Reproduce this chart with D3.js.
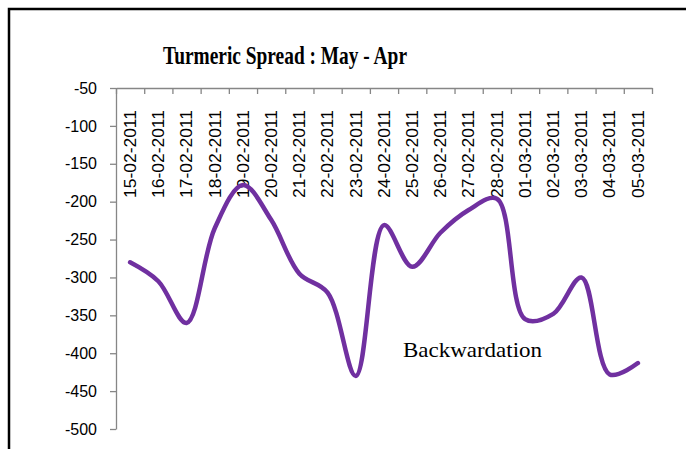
<!DOCTYPE html>
<html lang='en'>
	<head>
		<meta charset='utf-8'>
		<title>Turmeric Spread</title>
		<script type='text/javascript' src='https://cdn.jsdelivr.net/npm/d3@7'></script>
		<style>
			body { margin: 0; background: #fff; }
		</style>
	</head>
	<body>
	</body>
	<script type='text/javascript'>
	var dates = ['15-02-2011','16-02-2011','17-02-2011','18-02-2011','19-02-2011','20-02-2011','21-02-2011',
		'22-02-2011','23-02-2011','24-02-2011','25-02-2011','26-02-2011','27-02-2011','28-02-2011',
		'01-03-2011','02-03-2011','03-03-2011','04-03-2011','05-03-2011'];
	var spread = [-280, -305, -360, -235, -178, -224, -295, -320, -430, -231, -286, -241, -211, -196,
		-355, -348, -300, -428, -413];
	var y_ticks = [-50, -100, -150, -200, -250, -300, -350, -400, -450, -500];

	{
		let width = 686, height = 449;
		let plot_l = 116, plot_r = 652, plot_t = 88, plot_b = 429;
		let axis_grey = '#868686';

		let svg = d3.select('body').append('svg').attr('width', width).attr('height', height)
		svg.append('rect').attr('width', width).attr('height', height).attr('fill', '#fff')

		// chart frame (only left and top edges fall inside the picture)
		svg.append('path').attr('d', 'M9,' + height + 'V9H' + width)
			.attr('fill', 'none').attr('stroke', '#000').attr('stroke-width', 2.5)

		svg.append('text').attr('x', 285).attr('y', 64).attr('text-anchor', 'middle')
			.attr('font-family', 'Liberation Serif').attr('font-weight', 'bold').attr('font-size', '25px')
			.attr('textLength', 244).attr('lengthAdjust', 'spacingAndGlyphs')
			.text('Turmeric Spread : May - Apr')

		let x_scale = d3.scaleBand().domain(dates).range([plot_l, plot_r]).paddingInner(0).paddingOuter(0);
		let x_edges = d3.scaleLinear().domain([0, dates.length]).range([plot_l, plot_r]);
		let y_scale = d3.scaleLinear().domain([-500, -50]).range([plot_b, plot_t]);

		let yaxis = svg.append('g').attr('transform', 'translate(' + plot_l + ',0)')
			.call(d3.axisLeft(y_scale).tickValues(y_ticks).tickFormat(d => String(d)).tickSize(6).tickPadding(13).tickSizeOuter(0));
		yaxis.selectAll('text').attr('font-family', 'Liberation Sans').attr('font-size', '16px').attr('fill', '#000')

		svg.append('g').attr('transform', 'translate(0,' + plot_t + ')')
			.call(d3.axisBottom(x_edges).tickValues(d3.range(dates.length + 1)).tickFormat('').tickSize(6).tickSizeOuter(0));

		svg.selectAll('path.domain, .tick line').attr('stroke', axis_grey).attr('stroke-width', 1.3)

		svg.append('g').selectAll('text').data(dates).enter().append('text')
			.attr('transform', d => 'translate(' + (x_scale(d) + x_scale.bandwidth() / 2) + ',110)rotate(-90)')
			.attr('text-anchor', 'end').attr('dy', '0.35em')
			.attr('font-family', 'Liberation Sans').attr('font-size', '16.5px').attr('fill', '#000')
			.attr('textLength', 88).attr('lengthAdjust', 'spacingAndGlyphs')
			.text(d => d)

		let line = d3.line()
			.x((d, i) => x_scale(dates[i]) + x_scale.bandwidth() / 2)
			.y(d => y_scale(d))
			.curve(d3.curveCatmullRom.alpha(0.5));

		svg.append('path').datum(spread).attr('d', line)
			.attr('fill', 'none').attr('stroke', '#7030A0').attr('stroke-width', 4.5)
			.attr('stroke-linecap', 'round').attr('stroke-linejoin', 'round')

		svg.append('text').attr('x', 403).attr('y', 357)
			.attr('font-family', 'Liberation Serif').attr('font-size', '21px').attr('fill', '#000')
			.attr('textLength', 139).attr('lengthAdjust', 'spacingAndGlyphs')
			.text('Backwardation')
	}
	</script>
</html>
